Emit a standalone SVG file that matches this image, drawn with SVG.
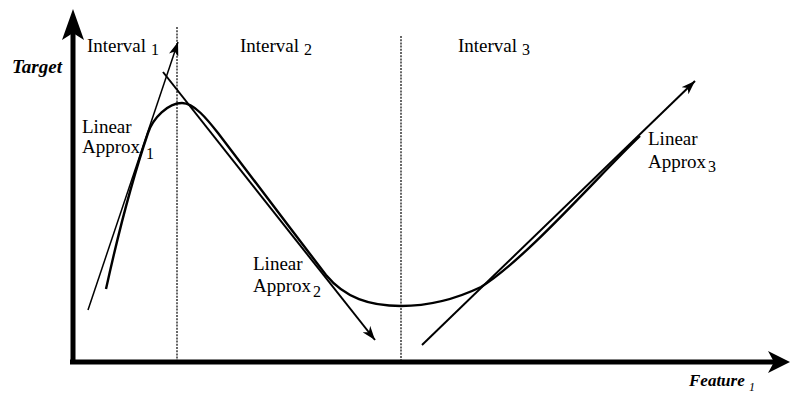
<svg xmlns="http://www.w3.org/2000/svg" width="790" height="393" viewBox="0 0 790 393">
<style>
  text { font-family: "Liberation Serif", "Times New Roman", serif; fill: #000; }
  .lbl { font-size: 19px; }
  .sub { font-size: 16px; }
  .ax { font-size: 19px; font-style: italic; font-weight: bold; }
  .axsub { font-size: 12px; font-style: italic; }
  .div { stroke: #000; stroke-width: 1.2; stroke-dasharray: 2 1.2; fill: none; }
  .approx { stroke: #000; fill: none; marker-end: url(#arr); }
</style>
<defs>
  <marker id="arr" viewBox="0 0 14 10" refX="14" refY="5" markerWidth="14" markerHeight="10" markerUnits="userSpaceOnUse" orient="auto">
    <path d="M0,0 L14,5 L0,10 L4,5 z" fill="#000"/>
  </marker>
</defs>
<rect width="790" height="393" fill="#fff"/>

<g id="axes">
  <line x1="73" y1="364" x2="73" y2="30" stroke="#000" stroke-width="5"/>
  <polygon points="73,9 84,40 73,33 62,40" fill="#000"/>
  <line x1="70" y1="362" x2="775" y2="362" stroke="#000" stroke-width="5"/>
  <polygon points="790,362 768,351 774,362 768,373" fill="#000"/>
  <text id="target" class="ax" x="12" y="73">Target</text>
  <text class="ax" x="689" y="386" style="font-size:17px">Feature</text>
  <text class="axsub" x="749" y="391">1</text>
</g>

<g id="dividers">
  <line class="div" x1="177" y1="27" x2="177" y2="362"/>
  <line class="div" x1="401" y1="36" x2="401" y2="362"/>
</g>

<g id="interval1"><text class="lbl" x="87" y="52">Interval</text><text class="sub" x="151" y="55">1</text></g>
<g id="interval2"><text class="lbl" x="240" y="52">Interval</text><text class="sub" x="304" y="55">2</text></g>
<g id="interval3"><text class="lbl" x="458" y="52">Interval</text><text class="sub" x="522" y="55">3</text></g>

<g id="curve">
  <path d="M106,289 C117,239 131,183 148,133 C153,118 168,103 182,103 C194,103 207,119 218,133 C245,168 290,228 326,275 C345,298 370,306 401,306 C430,306 458,298 481,287 C526,259 600,174 640,136" fill="none" stroke="#000" stroke-width="2.4"/>
</g>

<g id="connectors">
  <line class="approx" x1="88" y1="310" x2="178" y2="42" stroke-width="1.5"/>
  <line class="approx" x1="163" y1="72" x2="375" y2="340" stroke-width="2"/>
  <line class="approx" x1="422" y1="345" x2="695" y2="81" stroke-width="2"/>
</g>

<g id="approx1"><text class="lbl" x="82" y="133">Linear</text><text class="lbl" x="82" y="153">Approx</text><text class="sub" x="146" y="159">1</text></g>
<g id="approx2"><text class="lbl" x="253" y="270">Linear</text><text class="lbl" x="253" y="292">Approx</text><text class="sub" x="313" y="297">2</text></g>
<g id="approx3"><text class="lbl" x="648" y="145">Linear</text><text class="lbl" x="648" y="168">Approx</text><text class="sub" x="708" y="172">3</text></g>
</svg>
